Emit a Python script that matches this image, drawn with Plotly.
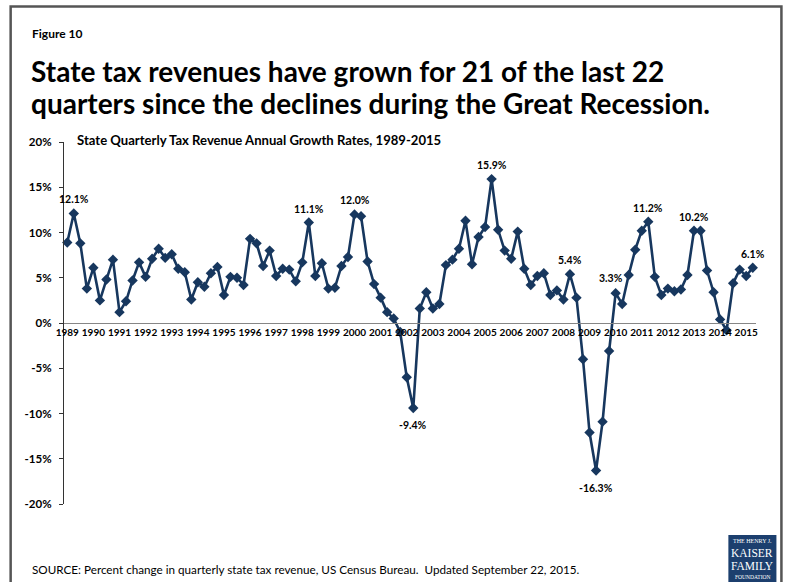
import plotly.graph_objects as go

# ---- data ----
years = list(range(1989, 2016))
values = [
    8.9, 12.1, 8.8, 3.8, 6.1, 2.5, 4.8, 7.0,
    1.2, 2.4, 4.7, 6.7, 5.1, 7.1, 8.2, 7.2,
    7.6, 6.0, 5.6, 2.6, 4.5, 4.0, 5.5, 6.2,
    3.1, 5.1, 5.0, 4.2, 9.3, 8.8, 6.3, 8.0,
    5.2, 6.0, 5.9, 4.6, 6.7, 11.1, 5.2, 6.6,
    3.8, 3.9, 6.3, 7.3, 12.0, 11.8, 6.8, 4.3,
    2.8, 1.2, 0.5, -1.0, -6.0, -9.4, 1.6, 3.4,
    1.6, 2.1, 6.4, 7.0, 8.2, 11.3, 6.5, 9.5,
    10.6, 15.9, 10.3, 8.0, 7.1, 10.1, 6.0, 4.2,
    5.2, 5.5, 3.1, 3.6, 2.6, 5.4, 2.8, -4.0,
    -12.1, -16.3, -10.9, -3.1, 3.3, 2.1, 5.3, 8.1,
    10.2, 11.2, 5.1, 3.1, 3.8, 3.5, 3.7, 5.3,
    10.2, 10.2, 5.8, 3.4, 0.4, -0.8, 4.4, 5.9,
    5.2, 6.1,
]
quarters = [f"{y} Q{q}" for y in years for q in range(1, 5)][:len(values)]
label_index = [1, 37, 44, 53, 65, 77, 81, 84, 89, 96, 105]
label_text = ["12.1%", "11.1%", "12.0%", "-9.4%", "15.9%", "5.4%", "-16.3%",
              "3.3%", "11.2%", "10.2%", "6.1%"]
y_ticks = [20, 15, 10, 5, 0, -5, -10, -15, -20]

FONT = "Lato"
NAVY = "#17375E"
W, H = 789, 582
L, R, T, B = 64.3, 755.6, 141.7, 504.0

x_idx = list(range(len(values)))

def px(x):
    return (x - L) / (R - L)

def py(y):
    return (B - y) / (B - T)

fig = go.Figure()
fig.add_trace(go.Scatter(
    x=x_idx, y=values, mode="lines+markers",
    line=dict(color=NAVY, width=2.6),
    marker=dict(symbol="diamond", size=8, color=NAVY),
    cliponaxis=False, hovertext=quarters, showlegend=False,
))

annotations = []
for i, t in zip(label_index, label_text):
    v = values[i]
    if t == "3.3%":
        xs, ys = -5, 15
    elif v < 0:
        xs, ys = 0, -17
    else:
        xs, ys = 0, 14
    annotations.append(dict(x=i, y=v, xref="x", yref="y", text=f"<b>{t}</b>",
                            showarrow=False, xshift=xs, yshift=ys,
                            font=dict(family=FONT, size=10.5, color="#000")))

# texts
annotations += [
    dict(x=px(30), y=py(33), xref="paper", yref="paper", xanchor="left", yanchor="middle",
         text="<b>Figure 10</b>", showarrow=False, font=dict(family=FONT, size=12, color="#000")),
    dict(x=px(29), y=py(71), xref="paper", yref="paper", xanchor="left", yanchor="middle",
         text="<b>State tax revenues have grown for 21 of the last 22</b>", showarrow=False,
         font=dict(family=FONT, size=28, color="#000")),
    dict(x=px(29), y=py(103), xref="paper", yref="paper", xanchor="left", yanchor="middle",
         text="<b>quarters since the declines during the Great Recession.</b>", showarrow=False,
         font=dict(family=FONT, size=28, color="#000")),
    dict(x=px(75), y=py(140), xref="paper", yref="paper", xanchor="left", yanchor="middle",
         text="<b>State Quarterly Tax Revenue Annual Growth Rates, 1989-2015</b>", showarrow=False,
         font=dict(family=FONT, size=13.1, color="#000")),
    dict(x=px(30), y=py(569), xref="paper", yref="paper", xanchor="left", yanchor="middle",
         text="SOURCE: Percent change in quarterly state tax revenue, US Census Bureau.  Updated September 22, 2015.",
         showarrow=False, font=dict(family=FONT, size=11.7, color="#000")),
    # logo text
    dict(x=px(752), y=py(541), xref="paper", yref="paper", xanchor="center", yanchor="middle",
         text="THE HENRY J.", showarrow=False,
         font=dict(family="Liberation Serif", size=6, color="#fff")),
    dict(x=px(752), y=py(553), xref="paper", yref="paper", xanchor="center", yanchor="middle",
         text="KAISER", showarrow=False,
         font=dict(family="Liberation Serif", size=11.5, color="#fff")),
    dict(x=px(752), y=py(566), xref="paper", yref="paper", xanchor="center", yanchor="middle",
         text="FAMILY", showarrow=False,
         font=dict(family="Liberation Serif", size=11.5, color="#fff")),
    dict(x=px(752), y=py(577), xref="paper", yref="paper", xanchor="center", yanchor="middle",
         text="FOUNDATION", showarrow=False,
         font=dict(family="Liberation Serif", size=5.5, color="#fff")),
]

shapes = [
    # outer frame
    dict(type="rect", xref="paper", yref="paper", x0=px(11), x1=px(781), y0=py(600), y1=py(6),
         line=dict(color="#555", width=2.5), fillcolor="rgba(0,0,0,0)", layer="below"),
    # logo box
    dict(type="rect", xref="paper", yref="paper", x0=px(728), x1=px(776), y0=py(582), y1=py(535),
         line=dict(width=0), fillcolor="#1C3F6E", layer="below"),
]

fig.update_layout(
    width=W, height=H,
    margin=dict(l=L, r=W - R, t=T, b=H - B, pad=0),
    paper_bgcolor="#fff", plot_bgcolor="#fff",
    font=dict(family=FONT, color="#000"),
    annotations=annotations, shapes=shapes,
    xaxis=dict(
        range=[-0.5, len(values) - 0.5], anchor="free", position=0.5,
        showline=True, linecolor="#868686", linewidth=1.3,
        tickvals=[i for i in x_idx if i % 4 == 0],
        ticktext=[f"<b>{y}</b>" for y in years],
        ticks="", tickangle=0, tickfont=dict(family=FONT, size=10, color="#000"),
        showgrid=False, zeroline=False, fixedrange=True,
    ),
    yaxis=dict(
        range=[-20, 20], tickvals=y_ticks,
        ticktext=[f"<b>{v}%</b>" for v in y_ticks],
        ticks="outside", ticklen=4, tickcolor="#333", tickwidth=1,
        showline=True, linecolor="#333", linewidth=1.2,
        tickfont=dict(family=FONT, size=11.5, color="#000"),
        ticklabelstandoff=5,
        showgrid=False, zeroline=False, fixedrange=True,
    ),
)

fig.write_html("out.html", config={"displayModeBar": False},
               post_script="document.body.style.margin='0';document.body.style.overflow='hidden';")
